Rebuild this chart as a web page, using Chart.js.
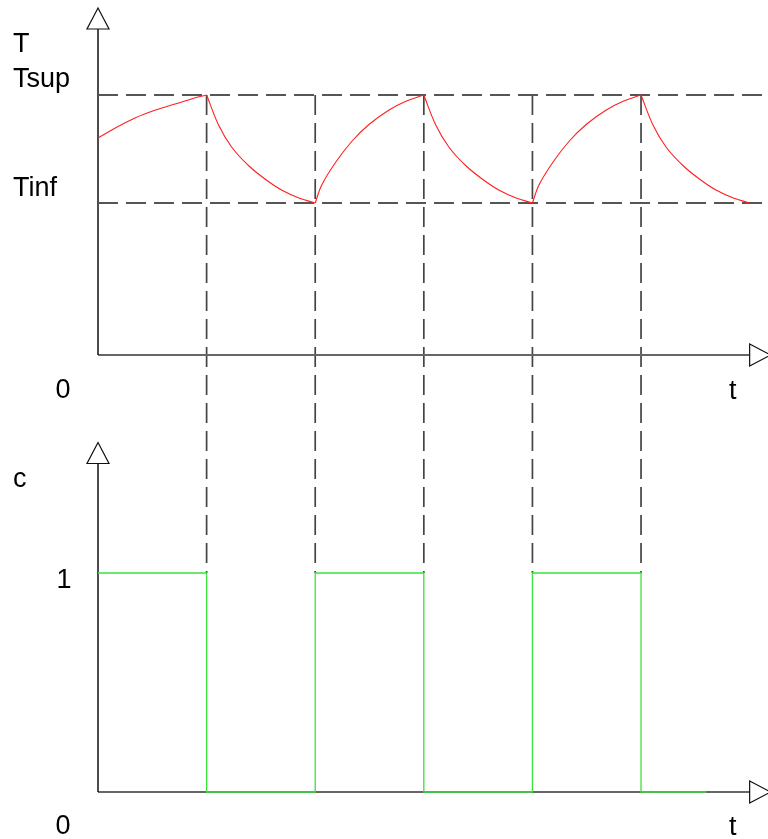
<!DOCTYPE html>
<html>
<head>
<meta charset="utf-8">
<script src="https://cdn.jsdelivr.net/npm/chart.js@4.4.1/dist/chart.umd.min.js"></script>
<style>
  html, body { margin: 0; padding: 0; background: #fff; }
  #wrap { width: 768px; height: 839px; }
</style>
</head>
<body>
<div id="wrap"><canvas id="chart" width="768" height="839"></canvas></div>
<script>
// temperature T(t), one array pair per segment
const heat0Time = [0, 1.6, 3.4, 5.3, 7.1, 8.9, 10];
const heat0Temp = [21.7, 22.7, 23.7, 24.5, 25.1, 25.7, 26.0];
const cool1Time = [10, 11.1, 12.3, 13.9, 15.5, 16.9, 18.5, 20];
const cool1Temp = [26.0, 23.0, 20.8, 18.9, 17.5, 16.5, 15.7, 15.2];
const heat2Time = [20, 20.6, 21.9, 23.4, 25.0, 26.8, 28.4, 30];
const heat2Temp = [15.2, 17.0, 19.3, 21.4, 23.1, 24.5, 25.4, 26.0];
const cool3Time = [30, 31.1, 32.3, 33.9, 35.5, 36.9, 38.5, 40];
const cool3Temp = [26.0, 23.0, 20.8, 18.9, 17.5, 16.5, 15.7, 15.2];
const heat4Time = [40, 40.6, 41.9, 43.4, 45.0, 46.8, 48.4, 50];
const heat4Temp = [15.2, 17.0, 19.3, 21.4, 23.1, 24.5, 25.4, 26.0];
const cool5Time = [50, 51.1, 52.3, 53.9, 55.5, 56.9, 58.5, 60];
const cool5Temp = [26.0, 23.0, 20.8, 18.9, 17.5, 16.5, 15.7, 15.2];

// thresholds
const T_SUP = 26.0;
const T_INF = 15.2;

// command c(t)
const cTime = [0, 10, 20, 30, 40, 50, 56];
const cValue = [1, 0, 1, 0, 1, 0, 0];

// switching instants (vertical dashed lines)
const switchTimes = [10, 20, 30, 40, 50];

// axis ends
const T_AXIS_END = 32.6;
const C_AXIS_END = 1.5;
const t_AXIS_END = 60;

const FONT = '27px "Liberation Sans", Arial, sans-serif';

function pts(xs, ys) {
    return xs.map((v, i) => ({ x: v, y: ys[i] }));
}

const tempSegments = [
    [heat0Time, heat0Temp], [cool1Time, cool1Temp], [heat2Time, heat2Temp],
    [cool3Time, cool3Temp], [heat4Time, heat4Temp], [cool5Time, cool5Temp]
];

const datasets = [];

tempSegments.forEach(seg => {
    datasets.push({
        data: pts(seg[0], seg[1]),
        yAxisID: 'yT',
        borderColor: '#ff2020',
        borderWidth: 1.1,
        tension: 0.35,
        order: 0
    });
});

datasets.push({
    data: pts(cTime, cValue),
    yAxisID: 'yC',
    borderColor: '#3be03b',
    borderWidth: 1.3,
    stepped: 'before',
    order: 1
});

// horizontal dashed guides at Tsup and Tinf
[T_SUP, T_INF].forEach(level => {
    datasets.push({
        data: [{ x: 0, y: level }, { x: 64, y: level }],
        yAxisID: 'yT',
        borderColor: '#555',
        borderWidth: 1.8,
        borderDash: [20, 8],
        order: 5
    });
});

function arrowUp(ctx, x, y) {
    ctx.beginPath();
    ctx.moveTo(x, y - 21);
    ctx.lineTo(x - 11, y);
    ctx.lineTo(x + 11, y);
    ctx.closePath();
    ctx.fillStyle = '#fff';
    ctx.fill();
    ctx.strokeStyle = '#111';
    ctx.lineWidth = 1.2;
    ctx.stroke();
}

function arrowRight(ctx, x, y) {
    ctx.beginPath();
    ctx.moveTo(x + 21, y);
    ctx.lineTo(x, y - 11);
    ctx.lineTo(x, y + 11);
    ctx.closePath();
    ctx.fillStyle = '#fff';
    ctx.fill();
    ctx.strokeStyle = '#111';
    ctx.lineWidth = 1.2;
    ctx.stroke();
}

const schemaPlugin = {
    id: 'schema',
    beforeDatasetsDraw(chart) {
        const { ctx, scales: { x, yT, yC } } = chart;
        ctx.save();

        // vertical dashed lines from Tsup down to c = 1
        ctx.strokeStyle = '#444';
        ctx.lineWidth = 1.7;
        ctx.setLineDash([20, 8]);
        switchTimes.forEach(t => {
            const px = x.getPixelForValue(t);
            ctx.beginPath();
            ctx.moveTo(px, yT.getPixelForValue(T_SUP));
            ctx.lineTo(px, yC.getPixelForValue(1));
            ctx.stroke();
        });
        ctx.setLineDash([]);

        const x0 = x.getPixelForValue(0);
        const xEnd = x.getPixelForValue(t_AXIS_END);

        // two panels: [scale, top value]
        [[yT, T_AXIS_END], [yC, C_AXIS_END]].forEach(([sc, top]) => {
            const y0 = sc.getPixelForValue(0);
            const yTop = sc.getPixelForValue(top);
            // time axis
            ctx.strokeStyle = '#666';
            ctx.lineWidth = 2;
            ctx.beginPath();
            ctx.moveTo(x0, y0);
            ctx.lineTo(xEnd, y0);
            ctx.stroke();
            // vertical axis
            ctx.strokeStyle = '#111';
            ctx.lineWidth = 1.5;
            ctx.beginPath();
            ctx.moveTo(x0, y0);
            ctx.lineTo(x0, yTop);
            ctx.stroke();
            arrowUp(ctx, x0, yTop);
            arrowRight(ctx, xEnd, y0);
        });
        ctx.restore();
    },
    afterDraw(chart) {
        const { ctx, scales: { x, yT, yC } } = chart;
        ctx.save();
        ctx.font = FONT;
        ctx.fillStyle = '#000';
        ctx.textBaseline = 'alphabetic';

        ctx.textAlign = 'left';
        ctx.fillText('T', 13, 52);
        ctx.fillText('Tsup', 13, yT.getPixelForValue(T_SUP) - 8);
        ctx.fillText('Tinf', 13, yT.getPixelForValue(T_INF) - 7);
        ctx.fillText('c', 13, 487);

        ctx.textAlign = 'center';
        const tx = x.getPixelForValue(t_AXIS_END) - 17;
        ctx.fillText('0', 63, yT.getPixelForValue(0) + 43);
        ctx.fillText('t', tx, yT.getPixelForValue(0) + 44);
        ctx.fillText('1', 64, yC.getPixelForValue(1) + 15);
        ctx.fillText('0', 63, yC.getPixelForValue(0) + 42);
        ctx.fillText('t', tx, yC.getPixelForValue(0) + 43);
        ctx.restore();
    }
};

new Chart(document.getElementById('chart'), {
    type: 'line',
    data: { datasets: datasets },
    options: {
        responsive: false,
        animation: false,
        layout: { padding: 0 },
        plugins: {
            legend: { display: false },
            tooltip: { enabled: false }
        },
        elements: { point: { radius: 0 } },
        scales: {
            x: { type: 'linear', display: false, min: -9.024, max: 61.69 },
            yT: { type: 'linear', display: false, min: -48.4, max: 35.5 },
            yC: { type: 'linear', display: false, min: -0.2146, max: 3.6164 }
        }
    },
    plugins: [schemaPlugin]
});
</script>
</body>
</html>
